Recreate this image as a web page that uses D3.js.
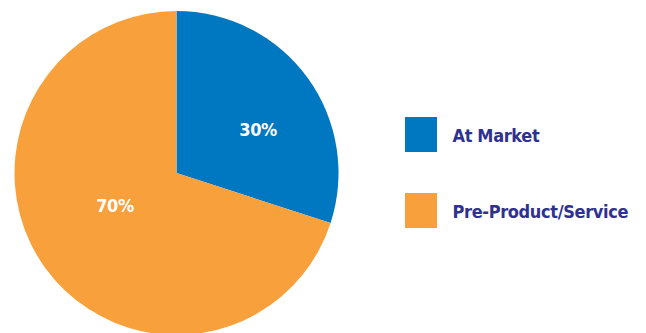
<!DOCTYPE html>
<html>
<head>
<meta charset="utf-8">
<script src="https://cdn.jsdelivr.net/npm/d3@7"></script>
<style>
  html, body { margin: 0; padding: 0; background: #ffffff; }
  svg { display: block; }
  text { font-family: "DejaVu Sans Condensed", "DejaVu Sans", sans-serif; font-stretch: condensed; font-weight: bold; }
</style>
</head>
<body>
<svg id="chart" width="646" height="333"></svg>
<script>
// Stage of companies in the sample
const categories = ["At Market", "Pre-Product/Service"];
const shares = [30, 70];
const colors = ["#0077c1", "#f8a03b"];

const width = 646, height = 333;
const cx = 176.5, cy = 173, radius = 162;

const svg = d3.select("#chart");

const pie = d3.pie().sort(null).value(d => d)(shares);
const arc = d3.arc().innerRadius(0).outerRadius(radius);

const g = svg.append("g").attr("transform", `translate(${cx},${cy})`);

g.selectAll("path.slice")
  .data(pie)
  .join("path")
  .attr("class", "slice")
  .attr("d", arc)
  .attr("fill", (d, i) => colors[i]);

// percentage labels inside the slices
const labelRadius = [0.57, 0.43];
const labelTurn = 0.14; // rotate labels slightly clockwise from the slice middle
g.selectAll("text.pct")
  .data(pie)
  .join("text")
  .attr("class", "pct")
  .attr("transform", (d, i) => {
    const a = (d.startAngle + d.endAngle) / 2 + labelTurn;
    const r = radius * labelRadius[i];
    return `translate(${r * Math.sin(a)},${-r * Math.cos(a)})`;
  })
  .attr("text-anchor", "middle")
  .attr("dy", "0.36em")
  .attr("fill", "#ffffff")
  .attr("font-size", 18)
  .attr("letter-spacing", -0.4)
  .text(d => d.value + "%");

// legend
const legendY = d3.scalePoint().domain(categories).range([134.5, 210.5]);
const legend = svg.append("g");
const items = legend.selectAll("g.item")
  .data(categories)
  .join("g")
  .attr("class", "item")
  .attr("transform", d => `translate(405,${legendY(d)})`);

items.append("rect")
  .attr("x", 0)
  .attr("y", -17.5)
  .attr("width", 32)
  .attr("height", 35)
  .attr("fill", (d, i) => colors[i]);

items.append("text")
  .attr("x", 47.5)
  .attr("y", 7)
  .attr("fill", "#2e3192")
  .attr("font-size", 18)
  .attr("letter-spacing", -0.35)
  .text(d => d);
</script>
</body>
</html>
